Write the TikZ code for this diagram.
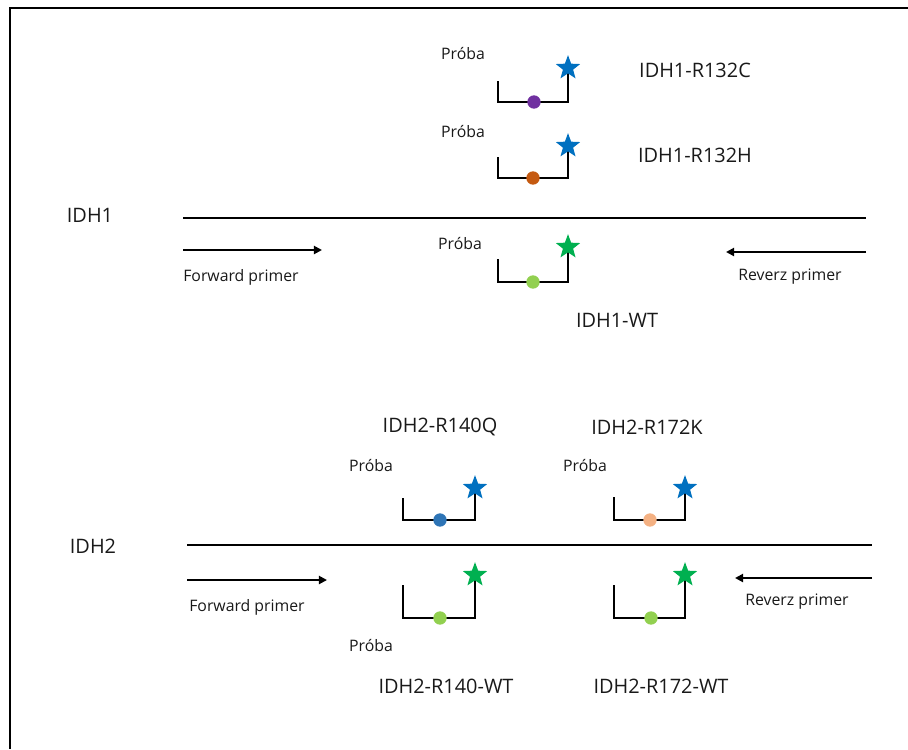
\documentclass[tikz,border=0pt]{standalone}
\usepackage{fontspec}
\setmainfont{Open Sans}
\usetikzlibrary{shapes.geometric, arrows.meta, backgrounds}
\definecolor{clrBlue}{HTML}{0070C0}
\definecolor{clrGreen}{HTML}{00B050}
\definecolor{clrPurple}{HTML}{7030A0}
\definecolor{clrOrange}{HTML}{C55A11}
\definecolor{clrLime}{HTML}{92D050}
\definecolor{clrSteel}{HTML}{2E75B6}
\definecolor{clrPeach}{HTML}{F4B183}

\begin{document}
\begin{tikzpicture}[x=0.03cm, y=-0.03cm,
    strand/.style={line width=2pt, black},
    primer/.style={-{Triangle[length=7pt, width=7pt]}, line width=1.7pt, black},
    probe/.style={line width=1.6pt, black},
    frame/.style={line width=2.2pt, black},
    snp/.style={circle, inner sep=0pt, minimum size=0.40cm},
    fluor/.style={star, star points=5, star point ratio=2.4, inner sep=0pt, minimum size=0.77cm},
    gene/.style={font=\fontsize{17}{20}\selectfont, text=black!90},
    lbl/.style={font=\fontsize{13.5}{16}\selectfont, text=black!90},
]
\useasboundingbox (0,0) rectangle (908,749);

% Frame (runs off the right and bottom)
\coordinate (frameTR) at (908,8);
\coordinate (frameBL) at (10,749);
\draw[frame] (frameTR) -| (frameBL);

% IDH1 strand and primers
\node[gene] (idh1) at (90,215) {IDH1};
\coordinate (idh1L) at (183,218);
\coordinate (idh1R) at (866,218);
\draw[strand] (idh1L) -- (idh1R);
\coordinate (fwd1a) at (183,250);
\coordinate (fwd1b) at (322,250);
\coordinate (rev1a) at (866,252);
\coordinate (rev1b) at (726,252);
\draw[primer] (fwd1a) -- (fwd1b);
\draw[primer] (rev1a) -- (rev1b);
\node[lbl] (fwd1) at (241,277) {Forward primer};
\node[lbl] (rev1) at (790,277) {Reverz primer};

% IDH1 probes
\node[lbl] (proba1) at (463,54) {Próba};
\coordinate (leg1) at (498,81);
\node[snp, fill=clrPurple] (snp1) at (534,102) {};
\node[fluor, fill=clrBlue] (fl1) at (568,68) {};
\node[gene] (r132c) at (695,70) {IDH1-R132C};

\node[lbl] (proba2) at (463,132) {Próba};
\coordinate (leg2) at (498,157);
\node[snp, fill=clrOrange] (snp2) at (533,178) {};
\node[fluor, fill=clrBlue] (fl2) at (568,146) {};
\node[gene] (r132h) at (695,155) {IDH1-R132H};

\node[lbl] (proba3) at (460,244) {Próba};
\coordinate (leg3) at (498,259);
\node[snp, fill=clrLime] (snp3) at (533,282) {};
\node[fluor, fill=clrGreen] (fl3) at (568,247) {};
\node[gene] (wt1) at (617,320) {IDH1-WT};

% IDH2 strand and primers
\node[gene] (idh2) at (93,546) {IDH2};
\coordinate (idh2L) at (187,545);
\coordinate (idh2R) at (872,545);
\draw[strand] (idh2L) -- (idh2R);
\coordinate (fwd2a) at (187,580);
\coordinate (fwd2b) at (327,580);
\coordinate (rev2a) at (872,578);
\coordinate (rev2b) at (735,578);
\draw[primer] (fwd2a) -- (fwd2b);
\draw[primer] (rev2a) -- (rev2b);
\node[lbl] (fwd2) at (247,607) {Forward primer};
\node[lbl] (rev2) at (797,602) {Reverz primer};

% IDH2 probes, mutant side
\node[gene] (r140q) at (440,427) {IDH2-R140Q};
\node[gene] (r172k) at (647,427) {IDH2-R172K};

\node[lbl] (proba4) at (371,466) {Próba};
\coordinate (leg4) at (403,498);
\node[snp, fill=clrSteel] (snp4) at (440,520) {};
\node[fluor, fill=clrBlue] (fl4) at (475,488) {};

\node[lbl] (proba5) at (585,466) {Próba};
\coordinate (leg5) at (614,497);
\node[snp, fill=clrPeach] (snp5) at (650,520) {};
\node[fluor, fill=clrBlue] (fl5) at (685,488) {};

% IDH2 probes, wild type side
\node[snp, fill=clrLime] (snp6) at (440,618) {};
\node[fluor, fill=clrGreen] (fl6) at (475,575) {};
\node[lbl] (proba6) at (371,646) {Próba};
\node[gene] (wt140) at (446,686) {IDH2-R140-WT};

\node[snp, fill=clrLime] (snp7) at (651,618) {};
\node[fluor, fill=clrGreen] (fl7) at (685,575) {};
\node[gene] (wt172) at (661,686) {IDH2-R172-WT};
\coordinate (leg6) at (403,585);
\coordinate (leg7) at (614,585);

\begin{scope}[on background layer]
\draw[probe] (leg1) |- (snp1.center) -| (fl1.center);
\draw[probe] (leg2) |- (snp2.center) -| (fl2.center);
\draw[probe] (leg3) |- (snp3.center) -| (fl3.center);
\draw[probe] (leg4) |- (snp4.center) -| (fl4.center);
\draw[probe] (leg5) |- (snp5.center) -| (fl5.center);
\draw[probe] (leg6) |- (snp6.center) -| (fl6.center);
\draw[probe] (leg7) |- (snp7.center) -| (fl7.center);
\end{scope}

\end{tikzpicture}
\end{document}
